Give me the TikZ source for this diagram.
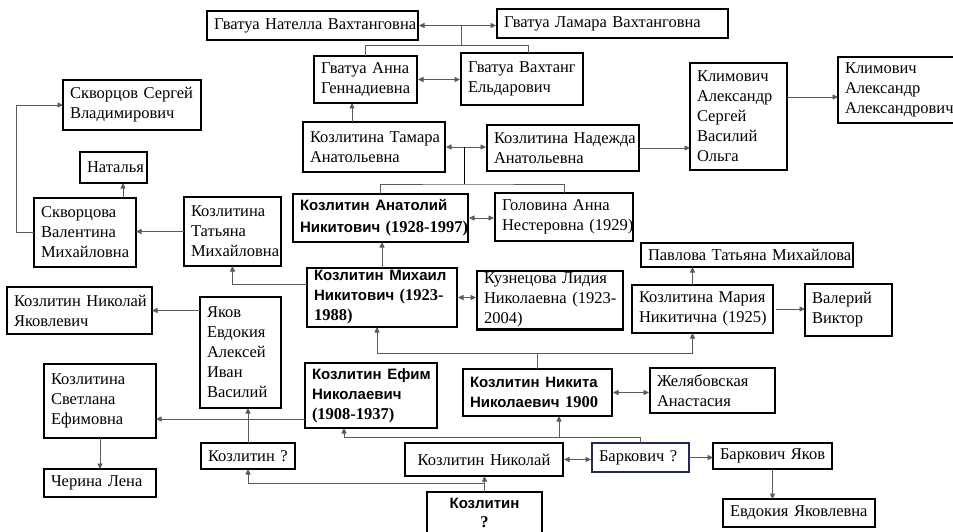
\documentclass[tikz,border=0pt]{standalone}
\usepackage{fontspec}
\setmainfont{Liberation Serif}
\newfontfamily\hsans{Liberation Sans}
\usetikzlibrary{arrows.meta}
\definecolor{lnk}{HTML}{5A5A5A}
\definecolor{navy}{HTML}{1F2A55}
\tikzset{
 box/.style={draw=black, line width=2.6pt, fill=white, inner xsep=7pt, inner ysep=2pt, outer sep=0pt, align=left, font=\fontsize{16.5}{20}\selectfont},
 mbox/.style={line width=2pt},
 bbox/.style={font=\fontsize{16.5}{20}\selectfont},
 line/.style={draw=lnk, line width=0.8pt},
 arr/.style={line, -{Triangle[length=5.5pt,width=5pt]}},
 dbl/.style={line, {Triangle[length=5.5pt,width=5pt]}-{Triangle[length=5.5pt,width=5pt]}, shorten <=1pt, shorten >=1pt},
}
\newcommand\bs[1]{{\hsans\bfseries\fontsize{15}{20}\selectfont #1}}
\newcommand\bn[1]{{\bfseries #1}}
\newcommand\bx[7][]{%
 \pgfmathsetmacro\bxw{#5-#3}\pgfmathsetmacro\bxh{#6-#4}\pgfmathsetmacro\bxt{#5-#3-14}%
 \node[box,minimum width=\bxw pt,minimum height=\bxh pt,text width=\bxt pt,anchor=north west,#1] (#2) at (#3,#4) {#7};}
\begin{document}
\begin{tikzpicture}[x=1pt,y=-1pt]
\path[fill=white] (0,0) rectangle (953,532);
\useasboundingbox (0,0) rectangle (953,532);
% boxes
\bx{nat}{207}{11}{418}{40}{\mbox{Гватуа Нателла Вахтанговна}}
\bx{lam}{497}{9}{728}{38}{\mbox{Гватуа Ламара Вахтанговна}}
\bx{anna}{314}{56}{417}{103}{\mbox{Гватуа Анна}\\Геннадиевна}
\bx[mbox]{vakh}{461}{53}{583}{105}{\mbox{Гватуа Вахтанг}\\Ельдарович}
\bx{tam}{303}{122}{445}{172}{\mbox{Козлитина Тамара}\\Анатольевна}
\bx[mbox]{nad}{487}{125}{639}{171}{\mbox{Козлитина Надежда}\\Анатольевна}
\bx{klim1}{690}{63}{787}{170}{Климович\\Александр\\Сергей\\Василий\\Ольга}
\bx{klim2}{838}{57}{965}{123}{Климович\\Александр\\Александрович}
\bx{skv}{63}{80}{201}{130}{\mbox{Скворцов Сергей}\\Владимирович}
\bx{nata}{80}{152}{147}{183}{Наталья}
\bx{val}{34}{198}{136}{267}{Скворцова\\Валентина\\Михайловна}
\bx{tat}{184}{197}{281}{266}{Козлитина\\Татьяна\\\mbox{Михайловна}}
\bx[font=\fontsize{16.5}{22}\selectfont]{anat}{293}{194}{468}{242}{\mbox{\bs{Козлитин Анатолий}}\\\mbox{\bs{Никитович} \bn{(1928-1997)}}}
\bx[mbox]{golo}{495}{193}{633}{241}{\mbox{Головина Анна}\\\mbox{Нестеровна (1929)}}
\bx[bbox]{mikh}{307}{268}{457}{327}{\mbox{\bs{Козлитин Михаил}}\\\mbox{\bs{Никитович} \bn{(1923-}}\\\mbox{\bn{1988)}}}
\bx{lid}{477}{271}{623}{326}{\mbox{Кузнецова Лидия}\\\mbox{Николаевна (1923-}\\\mbox{2004)}}
\bx{pav}{641}{243}{853}{267}{\mbox{Павлова Татьяна Михайлова}}
\bx{mar}{632}{285}{773}{333}{\mbox{Козлитина Мария}\\\mbox{Никитична (1925)}}
\bx{valv}{805}{284}{892}{336}{Валерий\\Виктор}
\bx{nyak}{7}{287}{152}{334}{\mbox{Козлитин Николай}\\Яковлевич}
\bx{yak}{200}{297}{281}{408}{Яков\\Евдокия\\Алексей\\Иван\\Василий}
\bx[bbox]{efim}{305}{363}{437}{428}{\mbox{\bs{Козлитин Ефим}}\\\mbox{\bs{Николаевич}}\\\mbox{\bn{(1908-1937)}}}
\bx{svet}{44}{364}{156}{438}{Козлитина\\Светлана\\Ефимовна}
\bx{cher}{44}{469}{156}{497}{\mbox{Черина Лена}}
\bx[mbox]{kq1}{201}{443}{295}{469}{\mbox{Козлитин ?}}
\bx[mbox,align=center]{nkl}{405}{443}{563}{476}{\mbox{Козлитин Николай}}
\bx[line width=1.6pt,draw=navy]{bark}{592}{443}{689}{472}{\mbox{Баркович ?}}
\bx[bbox]{nik}{463}{369}{612}{416}{\mbox{\bs{Козлитин Никита}}\\\mbox{\bs{Николаевич} \bn{1900}}}
\bx{zhel}{650}{368}{775}{413}{Желябовская\\Анастасия}
\bx[mbox]{bya}{713}{443}{832}{469}{\mbox{Баркович Яков}}
\bx[mbox]{evd}{723}{499}{875}{527}{\mbox{Евдокия Яковлевна}}
\bx[align=center,font=\fontsize{16.5}{19}\selectfont]{kq2}{427}{492}{542}{534}{\mbox{\bs{Козлитин}}\\\mbox{\bn{?}}}
% connectors
\coordinate (gtop) at (461,25);
\coordinate (gj) at (461,45);
\draw[dbl] (nat.east) -- (nat.east -| lam.west);
\draw[line] (gtop) -- (gj);
\draw[line] (anna.north) |- (gj);
\draw[line] (gj) -| ([xshift=6pt]vakh.north);
\draw[dbl] (anna.east) -- (anna.east -| vakh.west);
\coordinate (ta) at ([xshift=-22pt]tam.north);
\draw[arr] (ta) -- (ta |- anna.south);
\draw[dbl] (tam.east) -- (tam.east -| nad.west);
\coordinate (tn) at (464,147);
\coordinate (ag) at (464,184);
\draw[line,draw=black] (tn) -- (ag);
\draw[line] (anat.north) |- (ag) -| (golo.north);
\draw[arr] (nad.east) -- (nad.east -| klim1.west);
\coordinate (kk) at (787,97);
\draw[arr] (kk) -- (kk -| klim2.west);
\draw[dbl] (anat.east) -- (anat.east -| golo.west);
\draw[arr] (mikh.north) -- (mikh.north |- anat.south);
\draw[dbl] (mikh.east) -- (mikh.east -| lid.west);
\draw[arr] ([yshift=13.5pt]mikh.west) -| (tat.south);
\draw[arr] (tat.west) -- (tat.west -| val.east);
\coordinate (vn) at ([xshift=38pt]val.north);
\draw[arr] (vn) -- (vn |- nata.south);
\coordinate (vs) at (16,105);
\draw[arr] (val.west) -| (vs) -- (skv.west);
\draw[arr] (nyak.east -| yak.west) -- (nyak.east);
\coordinate (nk) at (537.5,353);
\draw[line] (nik.north) -- (nk);
\draw[arr] (nk) -| ([xshift=-5pt]mikh.south);
\draw[arr] (nk) -| ([xshift=-10pt]mar.south);
\coordinate (mp) at ([xshift=-10pt]mar.north);
\draw[arr] (mp) -- (mp |- pav.south);
\draw[arr,shorten <=3pt] (mar.east) -- (mar.east -| valv.west);
\draw[dbl] (nik.east) -- (nik.east -| zhel.west);
\coordinate (ej) at (344,437);
\coordinate (nj) at (559,437);
\draw[line] (bark.north) |- (ej);
\draw[arr] (ej) -- (ej |- efim.south);
\draw[arr] (nj) -- (nj |- nik.south);
\draw[dbl] (nkl.east) -- (nkl.east -| bark.west);
\draw[arr] (bark.east) -- (bark.east -| bya.west);
\draw[arr] (bya.south) -- (bya.south |- evd.north);
\draw[arr] (kq2.north) -- (kq2.north |- nkl.south);
\coordinate (qj) at (484,483);
\draw[arr] (qj) -| (kq1.south);
\draw[arr] (kq1.north) -- (kq1.north |- yak.south);
\coordinate (es) at (305,419);
\draw[arr] (es) -- (es -| svet.east);
\draw[arr] (svet.south) -- (svet.south |- cher.north);
\end{tikzpicture}
\end{document}
